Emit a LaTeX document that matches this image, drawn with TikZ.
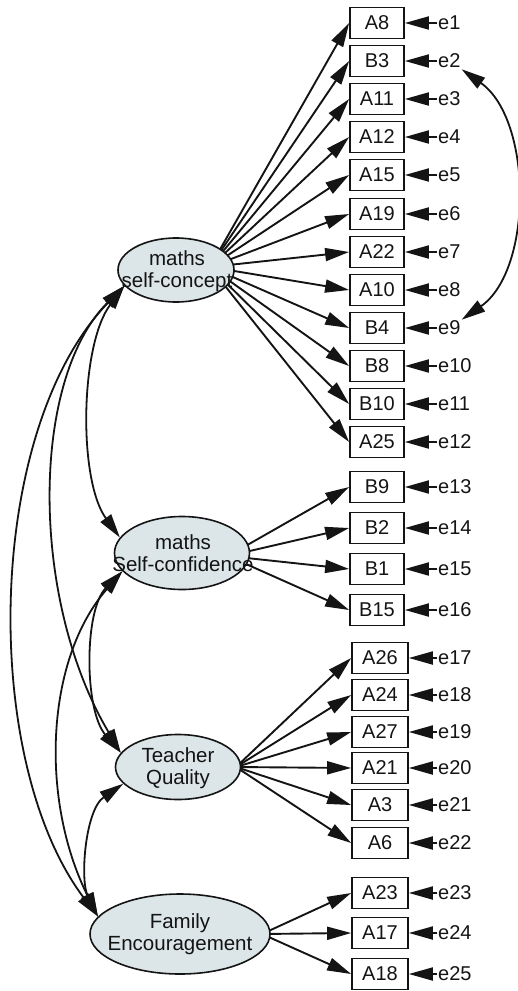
\documentclass[tikz,border=0pt]{standalone}
\usepackage{fontspec}
\setmainfont{Liberation Sans}
\usetikzlibrary{arrows.meta,shapes.geometric}
\definecolor{latfill}{RGB}{220,230,232}
\definecolor{ink}{RGB}{20,20,20}
\tikzset{
  tipbig/.tip={Triangle[length=24pt,width=13pt]},
}
\begin{document}
\begin{tikzpicture}[x=1pt,y=-1pt,
  obsbox/.style={draw=ink, line width=1.7pt, minimum width=54pt, minimum height=31pt, inner sep=0pt, font=\fontsize{20}{21}\selectfont, text=ink},
  obsboxw/.style={obsbox, minimum width=56pt},
  errlbl/.style={anchor=west, inner sep=1pt, font=\fontsize{20}{22}\selectfont, text=ink},
  latent/.style={ellipse, draw=ink, line width=1.6pt, fill=latfill, inner sep=0pt},
  lattext/.style={align=center, font=\fontsize{20.5}{21.5}\selectfont, text=ink, inner sep=0pt},
  regarrow/.style={draw=ink, line width=1.9pt, -tipbig},
  covarrow/.style={draw=ink, line width=1.8pt, tipbig-tipbig},
]
\useasboundingbox (0,0) rectangle (518,991);

% observed variables and their errors
\foreach \n/\yy/\e in {A8/23/e1, B3/61/e2, A11/99/e3, A12/137/e4, A15/175/e5, A19/214/e6, A22/252/e7, A10/290/e8, B4/328/e9, B8/366/e10, B10/404/e11, A25/442/e12, B9/487/e13, B2/528/e14, B1/569/e15, B15/610/e16}{
  \node[obsbox] (\n) at (377,\yy) {\n};
  \node[errlbl] (\e) at (437,\yy) {\e};
  \draw[regarrow] (\e.west) -- (\n.east);
}
\foreach \n/\yy/\e in {A26/658/e17, A24/695/e18, A27/732/e19, A21/768/e20, A3/805/e21, A6/843/e22, A23/893/e23, A17/933/e24, A18/974/e25}{
  \node[obsboxw] (\n) at (380,\yy) {\n};
  \node[errlbl] (\e) at (437,\yy) {\e};
  \draw[regarrow] (\e.west) -- (\n.east);
}

% sources of the loadings (inside the ellipses)
\coordinate (scsrc) at (210,267);
\coordinate (scfsrc) at (228,556);
\coordinate (tqsrc) at (236,767);
\coordinate (fesrc) at (262,934);
\foreach \n in {A8,B3,A11,A12,A15,A19,A22,A10,B4,B8,B10,A25}{\draw[regarrow] (scsrc) -- (\n.west);}
\foreach \n in {B9,B2,B1,B15}{\draw[regarrow] (scfsrc) -- (\n.west);}
\foreach \n in {A26,A24,A27,A21,A3,A6}{\draw[regarrow] (tqsrc) -- (\n.west);}
\foreach \n in {A23,A17,A18}{\draw[regarrow] (fesrc) -- (\n.west);}

% latent variables
\node[latent, minimum width=116pt, minimum height=64pt] (sc) at (176,270) {};
\node[latent, minimum width=135pt, minimum height=73pt] (scf) at (182,553) {};
\node[latent, minimum width=125pt, minimum height=65pt] (tq) at (178,767) {};
\node[latent, minimum width=180pt, minimum height=80pt] (fe) at (180,934) {};
\node[lattext] (sct) at (177,271) {maths\\self-concept};
\node[lattext] (scft) at (183,553) {maths\\Self-confidence};
\node[lattext] (tqt) at (178,768) {Teacher\\Quality};
\node[lattext] (fet) at (180,934) {Family\\Encouragement};

% covariances
\draw[covarrow] (sc.197) .. controls (80,345) and (78,480) .. (scf.166);
\draw[covarrow] (sc.197) .. controls (30,380) and (30,600) .. (tq.166);
\draw[covarrow] (sc.197) .. controls (-15,430) and (-20,760) .. (fe.168);
\draw[covarrow] (scf.197) .. controls (84,610) and (84,710) .. (tq.166);
\draw[covarrow] (scf.197) .. controls (45,660) and (40,800) .. (fe.168);
\draw[covarrow] (tq.197) .. controls (85,810) and (80,880) .. (fe.168);
\draw[covarrow] (e2.south east) .. controls (533,120) and (533,270) .. (e9.north east);
\end{tikzpicture}
\end{document}
